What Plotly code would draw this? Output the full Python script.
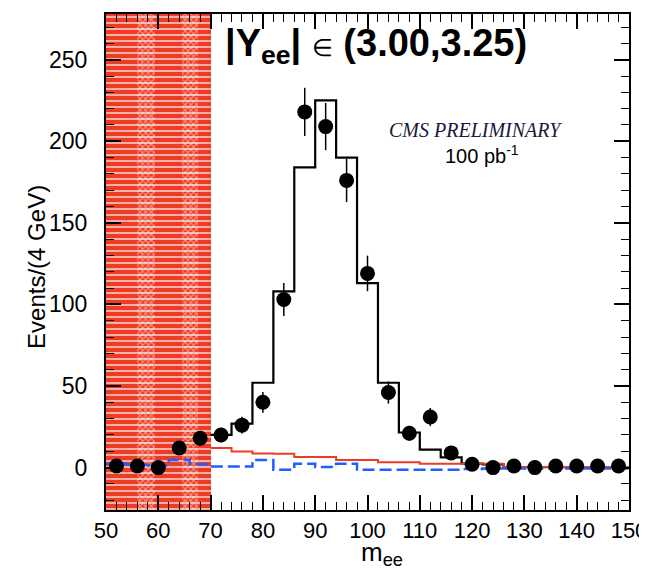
import plotly.graph_objects as go

# ---------------- data ----------------
bin_edges = list(range(50, 151, 4))            # 50,54,...,150
bin_centers = [e + 2 for e in bin_edges[:-1]]  # 52,...,148
data_counts = [1, 1, 0, 12, 18, 20, 26, 40, 103, 218, 209, 176, 119,
               46, 21, 31, 9, 2, 0, 1, 0, 1, 1, 1, 1]

mc_edges = list(range(70, 151, 4))             # MC drawn from 70 GeV
mc_signal = [20, 27, 52, 108, 184, 225, 190, 113, 52, 21.5, 11, 6.3,
             2.5, 2, 0.3, 0.3, 0.3, 0.3, 0.3, 0.3]
bkg_red = [12.0, 9.8, 8.6, 8.5, 6.5, 6.5, 4.7, 4.7, 3.3, 3.3, 2.3, 2.3,
           2.3, 2.3, 0.3, 0.3, 0.3, 0.3, 0.3, 0.3]
bkg_blue = [2.3, 1.8, 1.2, 4.7, 2.0, 0.6, 0.6, 4.7, -1.4, 2.3, 0.3, 2.3,
            -1.4, -1.4, -1.4, -1.4, -1.4, -0.8, -0.6, -0.6, -0.6, -0.6,
            -0.6, -0.6, -0.6]

x_ticks = list(range(50, 151, 10))
y_ticks = [0, 50, 100, 150, 200, 250]
x_range = [50, 150]
y_range = [-26, 278]
mask_range = [50, 70]            # excluded (hatched) mass region
mask_bands = [[56.0, 59.3], [64.5, 67.6]]

RED = "#ee3b24"
BLUE = "#1f5fff"

def steps(edges, vals):
    return list(edges), list(vals) + [vals[-1]]

fig = go.Figure()

# hatched excluded region
fig.add_trace(go.Bar(
    x=[(mask_range[0] + mask_range[1]) / 2], y=[y_range[1] - y_range[0]],
    base=[y_range[0]], width=[mask_range[1] - mask_range[0]],
    marker=dict(color=RED, line=dict(width=0),
                pattern=dict(shape="-", fgcolor="white", bgcolor=RED,
                             size=6, solidity=0.2, fillmode="replace")),
    hoverinfo="skip", showlegend=False))
for b in mask_bands:
    fig.add_trace(go.Bar(
        x=[(b[0] + b[1]) / 2], y=[y_range[1] - y_range[0]],
        base=[y_range[0]], width=[b[1] - b[0]],
        marker=dict(color="rgba(0,0,0,0)", line=dict(width=0),
                    pattern=dict(shape="x", fgcolor="white",
                                 bgcolor="rgba(0,0,0,0)",
                                 size=4, solidity=0.45, fillmode="overlay")),
        hoverinfo="skip", showlegend=False))

# MC signal histogram
sx, sy = steps(mc_edges, mc_signal)
fig.add_trace(go.Scatter(x=sx, y=sy, mode="lines", line_shape="hv",
                         line=dict(color="black", width=2.2),
                         hoverinfo="skip", showlegend=False))
# red background
rx, ry = steps(mc_edges, bkg_red)
fig.add_trace(go.Scatter(x=rx, y=ry, mode="lines", line_shape="hv",
                         line=dict(color=RED, width=2),
                         hoverinfo="skip", showlegend=False))
# blue dashed background
bx, by = steps(bin_edges, bkg_blue)
fig.add_trace(go.Scatter(x=bx, y=by, mode="lines", line_shape="hv",
                         line=dict(color=BLUE, width=2.5, dash="12px,5px"),
                         hoverinfo="skip", showlegend=False))
# data points
errs = [v ** 0.5 for v in data_counts]
fig.add_trace(go.Scatter(
    x=bin_centers, y=data_counts, mode="markers",
    marker=dict(color="black", size=15),
    error_y=dict(type="data", array=errs, visible=True, color="black",
                 thickness=1.5, width=0),
    showlegend=False))

FONT = "Liberation Sans, Arial, sans-serif"

fig.update_layout(
    width=647, height=569,
    margin=dict(l=98, r=26, t=6, b=67),
    paper_bgcolor="white", plot_bgcolor="white",
    barmode="overlay", bargap=0,
    font=dict(family=FONT, color="black"),
    xaxis=dict(range=x_range, tickvals=x_ticks, ticks="inside", ticklen=15,
               tickwidth=1.5, tickcolor="black", showline=True,
               linecolor="black", linewidth=2, mirror="allticks",
               showgrid=False, zeroline=False, automargin=False,
               ticklabeloverflow="allow", ticklabelstandoff=0,
               minor=dict(dtick=2, ticks="inside", ticklen=8, tickwidth=1.2,
                          tickcolor="black", showgrid=False),
               tickfont=dict(size=22, family=FONT)),
    yaxis=dict(range=y_range, tickvals=y_ticks, ticks="inside", ticklen=15,
               tickwidth=1.5, tickcolor="black", showline=True,
               linecolor="black", linewidth=2, mirror="allticks",
               showgrid=False, zeroline=False, automargin=False,
               minor=dict(dtick=10, ticks="inside", ticklen=8, tickwidth=1.2,
                          tickcolor="black", showgrid=False),
               tickfont=dict(size=23, family=FONT),
               ticklabelstandoff=12),
    annotations=[
        dict(text="Events/(4 GeV)", xref="paper", yref="paper",
             x=-0.132, y=0.49, xanchor="center", yanchor="middle",
             textangle=-90, showarrow=False,
             font=dict(size=24, family=FONT, color="black")),
        dict(text="m<sub>ee</sub>", xref="paper", yref="paper",
             x=0.527, y=-0.087, xanchor="center", yanchor="middle",
             showarrow=False, font=dict(size=26, family=FONT, color="black")),
        dict(text="<b>|Y<sub>ee</sub>|</b> <span style='font-size:24px'>\u2208</span> <b>(3.00,3.25)</b>",
             xref="paper", yref="paper", x=0.224, y=0.935, xanchor="left",
             yanchor="middle", showarrow=False,
             font=dict(size=38, family=FONT, color="black")),
        dict(text="<i>CMS PRELIMINARY</i>", xref="paper", yref="paper",
             x=0.707, y=0.766, xanchor="center", yanchor="middle",
             showarrow=False,
             font=dict(size=20, family="Liberation Serif, Times New Roman, serif",
                       color="#1a1a3a")),
        dict(text="100 pb<sup>-1</sup>", xref="paper", yref="paper",
             x=0.719, y=0.716, xanchor="center", yanchor="middle",
             showarrow=False, font=dict(size=20, family=FONT, color="black")),
    ],
)

fig.write_html("out.html")
